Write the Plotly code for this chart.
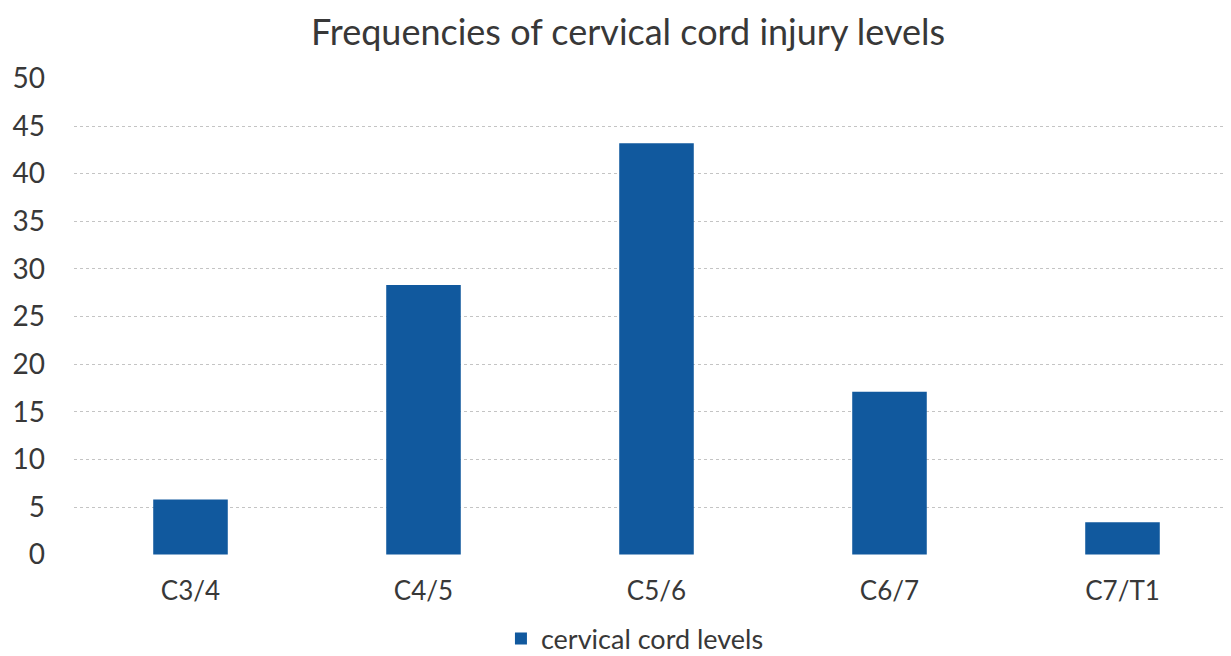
import plotly.graph_objects as go

categories = ["C3/4", "C4/5", "C5/6", "C6/7", "C7/T1"]
values = [5.8, 28.3, 43.2, 17.1, 3.4]
series_name = "cervical cord levels"
y_ticks = [0, 5, 10, 15, 20, 25, 30, 35, 40, 45, 50]

bar_color = "#11599e"
text_color = "#383838"
font_family = "Lato, 'Open Sans', sans-serif"

fig = go.Figure()
fig.add_trace(go.Bar(
    x=categories, y=values, name=series_name,
    marker=dict(color=bar_color, line=dict(width=0)),
    showlegend=True,
))

fig.update_layout(
    width=1231, height=656,
    margin=dict(l=66, r=0, t=70, b=109, autoexpand=False),
    paper_bgcolor="white", plot_bgcolor="white",
    bargap=0.68,
    title=dict(text="Frequencies of cervical cord injury levels",
               x=0.5037, xanchor="center", xref="container", y=0.963, yanchor="middle",
               font=dict(family=font_family, size=36, color=text_color)),
    font=dict(family=font_family, color=text_color),
    xaxis=dict(showgrid=False, showline=False, zeroline=False, ticks="",
               tickfont=dict(size=26, color=text_color), ticklabelstandoff=18),
    yaxis=dict(range=[-0.04, 50.04], tickvals=y_ticks, showgrid=True,
               gridcolor="#c4c4c4", griddash="dot", gridwidth=1,
               zeroline=False, showline=False, ticks="",
               tickfont=dict(size=28, color=text_color), ticklabelstandoff=28),
    legend=dict(orientation="h", x=0.4815, xanchor="center", y=-0.176, yanchor="middle",
                font=dict(size=27, color=text_color), tracegroupgap=0,
                borderwidth=0),
)
fig.write_html("out.html")
